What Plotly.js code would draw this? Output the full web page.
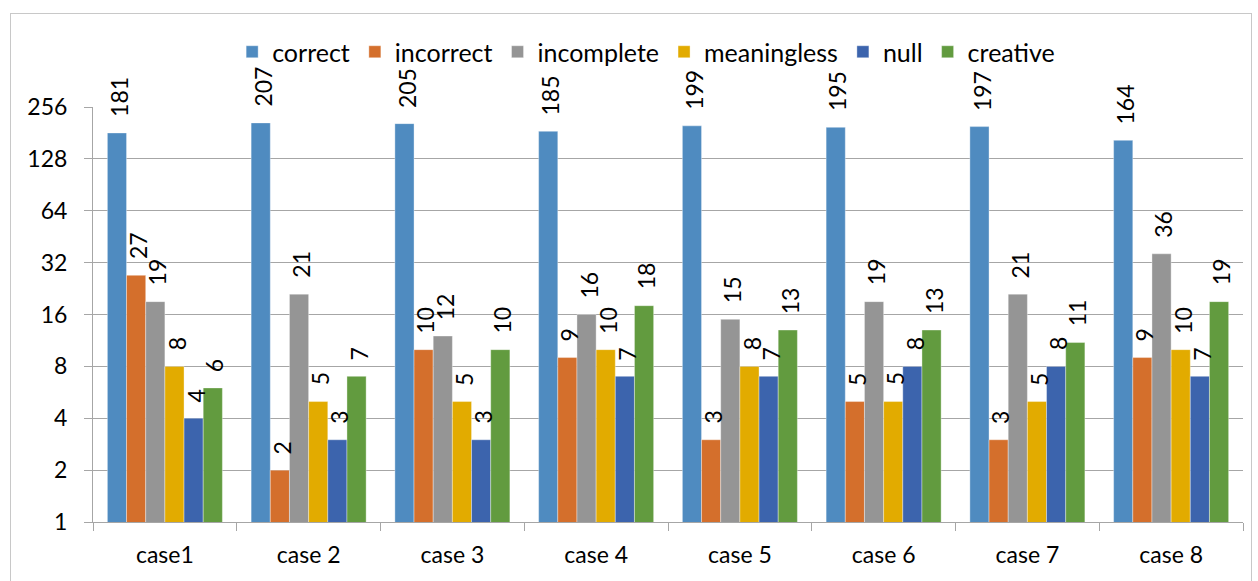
<!DOCTYPE html>
<html><head><meta charset="utf-8">
<script src="https://cdn.plot.ly/plotly-3.0.1.min.js"></script>
<style>
html,body{margin:0;padding:0;background:#fff;}
#frame{position:absolute;left:10px;top:13px;width:1242px;height:600px;border:1px solid #c8c8c8;box-sizing:border-box;}
#chart{position:absolute;left:0;top:0;width:1258px;height:581px;}
</style></head>
<body>
<div id="frame"></div>
<div id="chart"></div>
<script>
const categories = ["case1","case 2","case 3","case 4","case 5","case 6","case 7","case 8"];
const seriesNames = ["correct","incorrect","incomplete","meaningless","null","creative"];
const correct     = [181,207,205,185,199,195,197,164];
const incorrect   = [27,2,10,9,3,5,3,9];
const incomplete  = [19,21,12,16,15,19,21,36];
const meaningless = [8,5,5,10,8,5,5,10];
const nullVals    = [4,3,3,7,7,8,8,7];
const creative    = [6,7,10,18,13,13,11,19];
const colors = ["#4f8bc0","#d46f2c","#959595","#e2ab00","#3c64ad","#629b3f"];
const tickVals = [1,2,4,8,16,32,64,128,256];
const tickText = ["1","2","4","8","16","32","64","128","256"];

const values = [correct,incorrect,incomplete,meaningless,nullVals,creative];
const FONT = "Lato, 'Open Sans', sans-serif";
const W = 1258, H = 581, ML = 93, MR = 15, MT = 107, MB = 59;
const BARGAP = 0.2;
const traces = values.map((v,i)=>({
  type:"bar", name:seriesNames[i], x:categories, y:v,
  marker:{color:colors[i], line:{color:"rgba(255,255,255,0.6)", width:0.6}},
  hoverinfo:"skip"
}));

// value labels placed through the axes (category + data value), shifted within group
const catPx = (W-ML-MR)/categories.length;
const barPx = catPx*(1-BARGAP)/values.length;
const annotations = [];
values.forEach((v,i)=>{
  v.forEach((val,j)=>{
    annotations.push({
      x:categories[j], y:Math.log10(val), xref:"x", yref:"y",
      text:String(val), showarrow:false, textangle:-90,
      xanchor:"center", yanchor:"bottom",
      xshift:(i-(values.length-1)/2)*barPx + 2, yshift:14,
      font:{family:FONT,size:23,color:"#000"}
    });
  });
});

const layout = {
  width:W, height:H,
  margin:{l:ML,r:MR,t:MT,b:MB,autoexpand:false},
  paper_bgcolor:"rgba(0,0,0,0)", plot_bgcolor:"rgba(0,0,0,0)",
  barmode:"group", bargap:BARGAP, bargroupgap:0,
  font:{family:FONT,size:23,color:"#000"},
  showlegend:true,
  legend:{orientation:"h", x:0.481, xanchor:"center", y:1.1325, yanchor:"middle",
          font:{family:FONT,size:25,color:"#000"}, itemwidth:30, traceorder:"normal"},
  annotations:annotations,
  xaxis:{type:"category", showline:true, linecolor:"#a6a6a6", linewidth:1,
         ticks:"outside", tickson:"boundaries", ticklen:8, tickcolor:"#a6a6a6",
         showgrid:false, tickfont:{family:FONT,size:23}, ticklabelstandoff:12, fixedrange:true},
  yaxis:{type:"log", range:[0, Math.log10(256)], tickvals:tickVals, ticktext:tickText,
         showline:true, linecolor:"#a6a6a6", linewidth:1, ticks:"outside", ticklen:8,
         tickcolor:"#a6a6a6", showgrid:true, gridcolor:"#a6a6a6", gridwidth:1,
         zeroline:false, tickfont:{family:FONT,size:23}, ticklabelstandoff:12, fixedrange:true}
};
Plotly.newPlot("chart", traces, layout, {displayModeBar:false, staticPlot:true});
</script>
</body></html>
